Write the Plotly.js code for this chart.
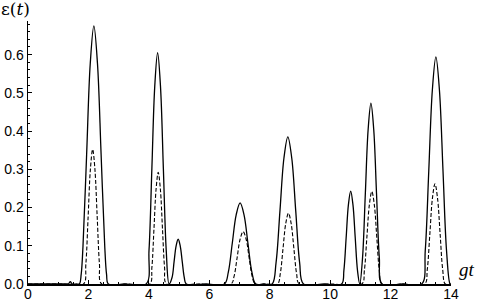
<!DOCTYPE html>
<html>
<head>
<meta charset="utf-8">
<script src="https://cdn.plot.ly/plotly-3.0.1.min.js"></script>
<style>html,body{margin:0;padding:0;background:#fff;}#chart{width:481px;height:303px;}</style>
</head>
<body>
<div id="chart"></div>
<script>
// Solid curve epsilon(t) samples (gt, value)
const solidX = [0, 1.2, 1.33, 1.4, 1.47, 1.6, 1.70, 1.76, 1.82, 1.94, 2.06, 2.18, 2.30, 2.42, 2.54, 2.60, 2.66,
  3.2, 3.91, 4.005, 4.10, 4.195, 4.29, 4.385, 4.48, 4.575, 4.67,
  4.7675, 4.835, 4.9025, 4.97, 5.0375, 5.105, 5.1725, 5.24,
  5.9, 6.50, 6.63, 6.76, 6.89, 7.02, 7.15, 7.28, 7.41, 7.54,
  7.8, 8.08, 8.21, 8.34, 8.47, 8.6, 8.73, 8.86, 8.99, 9.12,
  9.8, 10.38, 10.455, 10.53, 10.605, 10.68, 10.755, 10.83, 10.905, 10.98,
  11.0725, 11.165, 11.2575, 11.35, 11.4425, 11.535, 11.6275, 11.72,
  12.4, 13.03, 13.1475, 13.265, 13.3825, 13.5, 13.6175, 13.735, 13.8525, 13.97, 14.0];
const solidY = [0, 0, 0, 0.006, 0, 0, 0, 0.025, 0.099, 0.338, 0.576, 0.675, 0.576, 0.338, 0.099, 0.025, 0,
  0, 0, 0.088, 0.3025, 0.517, 0.605, 0.517, 0.3025, 0.088, 0,
  0.017, 0.0585, 0.1, 0.117, 0.1, 0.0585, 0.017, 0,
  0, 0, 0.031, 0.106, 0.181, 0.212, 0.181, 0.106, 0.031, 0,
  0, 0, 0.056, 0.1925, 0.329, 0.385, 0.329, 0.1925, 0.056, 0,
  0, 0, 0.0355, 0.1215, 0.2075, 0.243, 0.2075, 0.1215, 0.0355, 0,
  0.069, 0.2365, 0.404, 0.473, 0.404, 0.2365, 0.069, 0,
  0, 0, 0.087, 0.297, 0.507, 0.594, 0.507, 0.297, 0.087, 0, 0];

// Dashed curve samples
const dashX = [0, 1.3, 1.84, 1.915, 1.99, 2.065, 2.14, 2.215, 2.29, 2.365, 2.44,
  3.3, 4.03, 4.10, 4.17, 4.24, 4.31, 4.38, 4.45, 4.52, 4.59,
  5.6, 6.72, 6.82, 6.92, 7.02, 7.12, 7.22, 7.32, 7.42, 7.52,
  7.9, 8.26, 8.35, 8.44, 8.53, 8.62, 8.71, 8.8, 8.89, 8.98,
  10.0, 11.05, 11.1325, 11.215, 11.2975, 11.38, 11.4625, 11.545, 11.6275, 11.71,
  12.4, 13.13, 13.215, 13.3, 13.385, 13.47, 13.555, 13.64, 13.725, 13.81, 14.0];
const dashY = [0, 0, 0, 0.052, 0.176, 0.30, 0.352, 0.30, 0.176, 0.052, 0,
  0, 0, 0.043, 0.146, 0.249, 0.292, 0.249, 0.146, 0.043, 0,
  0, 0, 0.02, 0.068, 0.117, 0.137, 0.117, 0.068, 0.02, 0,
  0, 0, 0.027, 0.0925, 0.158, 0.185, 0.158, 0.0925, 0.027, 0,
  0, 0, 0.035, 0.121, 0.207, 0.242, 0.207, 0.121, 0.035, 0,
  0, 0, 0.038, 0.131, 0.224, 0.262, 0.224, 0.131, 0.038, 0, 0];

const xTicks = [0, 2, 4, 6, 8, 10, 12, 14];
const yTicks = [0.0, 0.1, 0.2, 0.3, 0.4, 0.5, 0.6];
const yTickText = ['0.0', '0.1', '0.2', '0.3', '0.4', '0.5', '0.6'];

const tickFont = {family: 'Liberation Sans, Arial, sans-serif', size: 14, color: '#000'};

const traces = [
  {x: solidX, y: solidY, type: 'scatter', mode: 'lines',
   line: {color: '#000', width: 1.3, shape: 'spline', smoothing: 1}, hoverinfo: 'none'},
  {x: dashX, y: dashY, type: 'scatter', mode: 'lines',
   line: {color: '#000', width: 1.1, dash: '4px,2px', shape: 'spline', smoothing: 1}, hoverinfo: 'none'}
];

const layout = {
  width: 481, height: 303,
  margin: {l: 28, r: 30, t: 21, b: 19, pad: 0},
  paper_bgcolor: '#fff', plot_bgcolor: '#fff',
  showlegend: false,
  xaxis: {
    range: [0, 14], tickvals: xTicks, ticktext: xTicks.map(String),
    ticks: 'inside', ticklen: 4, tickwidth: 1, tickcolor: '#000',
    minor: {dtick: 0.5, tick0: 0, ticks: 'inside', ticklen: 2, tickwidth: 1, tickcolor: '#000', showgrid: false},
    showline: true, linecolor: '#000', linewidth: 1.5,
    showgrid: false, zeroline: false, tickfont: tickFont, ticklabelstandoff: -3
  },
  yaxis: {
    range: [0, 0.688], tickvals: yTicks, ticktext: yTickText,
    ticks: 'inside', ticklen: 4, tickwidth: 1, tickcolor: '#000',
    minor: {dtick: 0.02, tick0: 0, ticks: 'inside', ticklen: 2, tickwidth: 1, tickcolor: '#000', showgrid: false},
    showline: true, linecolor: '#000', linewidth: 1.5,
    showgrid: false, zeroline: false, tickfont: tickFont, ticklabelstandoff: 0
  },
  annotations: [
    {text: 'ε(<i>t</i>)', xref: 'paper', yref: 'paper', x: 0, y: 1, xanchor: 'left', yanchor: 'bottom',
     xshift: -29, yshift: 0, showarrow: false,
     font: {family: 'DejaVu Serif, Liberation Serif, serif', size: 17, color: '#000'}},
    {text: '<i>gt</i>', xref: 'paper', yref: 'paper', x: 1, y: 0, xanchor: 'left', yanchor: 'bottom',
     xshift: 6, yshift: 2, showarrow: false,
     font: {family: 'Liberation Serif, DejaVu Serif, serif', size: 19, color: '#000'}}
  ]
};

Plotly.newPlot('chart', traces, layout, {staticPlot: true, displayModeBar: false});
</script>
</body>
</html>
